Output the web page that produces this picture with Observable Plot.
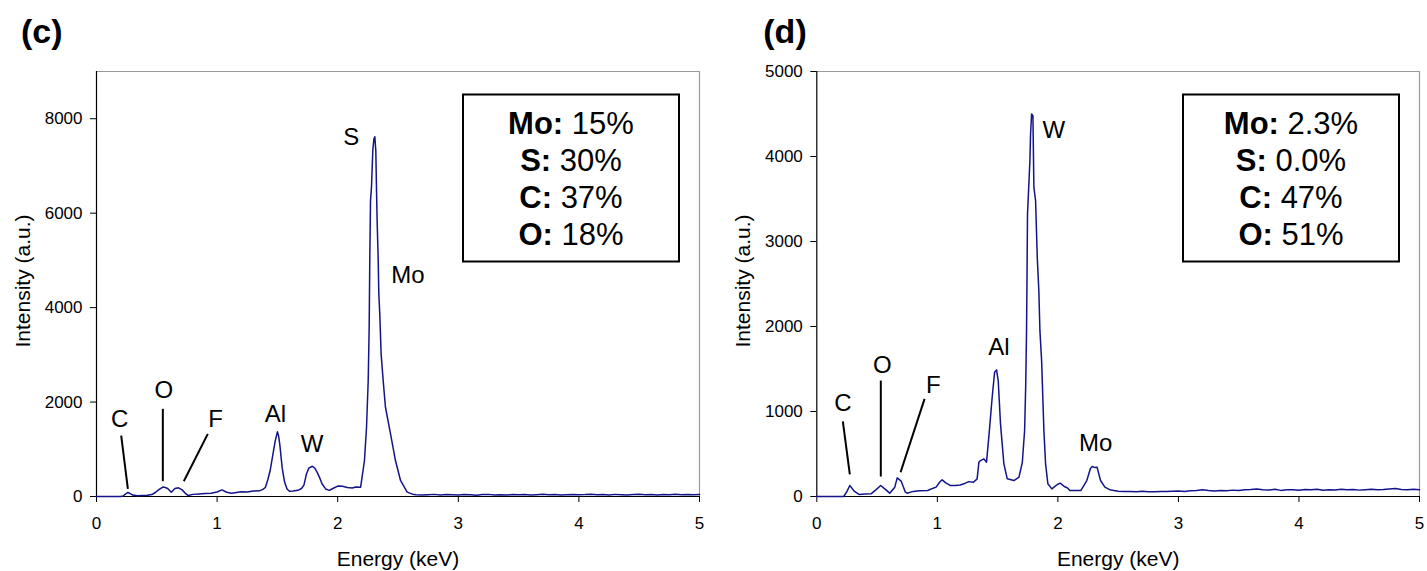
<!DOCTYPE html>
<html>
<head>
<meta charset="utf-8">
<script src="https://cdn.jsdelivr.net/npm/d3@7"></script>
<script src="https://cdn.jsdelivr.net/npm/@observablehq/plot@0.6"></script>
<style>
  body { margin: 0; background: #fff; }
  #wrap { display: flex; width: 1427px; height: 571px; overflow: hidden; }
</style>
</head>
<body>
<div id="wrap"></div>
<script>
// ---------- DATA ----------
const xTicks = [0, 1, 2, 3, 4, 5];
const cYTicks = [0, 2000, 4000, 6000, 8000];
const dYTicks = [0, 1000, 2000, 3000, 4000, 5000];

// EDS spectrum (c): [energy keV, intensity]
const specC = [
  [0,0],[0.1,0],[0.2,0],[0.22,10],[0.24,50],[0.26,85],[0.28,60],[0.3,30],[0.34,15],[0.38,20],
  [0.42,25],[0.46,40],[0.49,90],[0.52,150],[0.55,200],[0.57,190],[0.59,170],[0.62,90],[0.65,170],[0.68,183],
  [0.71,140],[0.74,60],[0.76,20],[0.8,45],[0.85,55],[0.9,65],[0.95,70],[1.0,95],[1.04,140],[1.08,90],
  [1.12,70],[1.16,85],[1.2,100],[1.25,95],[1.3,115],[1.35,120],[1.38,150],[1.4,190],[1.42,350],[1.44,550],
  [1.46,850],[1.48,1150],[1.5,1370],[1.51,1280],[1.52,1100],[1.54,600],[1.56,300],[1.58,160],[1.6,110],[1.63,115],
  [1.67,130],[1.7,170],[1.72,240],[1.74,470],[1.76,600],[1.79,640],[1.81,600],[1.83,510],[1.85,400],[1.87,270],
  [1.9,160],[1.93,130],[1.96,170],[2.0,220],[2.04,215],[2.08,190],[2.12,180],[2.15,200],[2.19,197],[2.222,762],
  [2.239,1467],[2.253,2455],[2.261,3584],[2.266,4995],[2.272,6265],[2.28,6547],[2.291,7323],[2.3,7570],[2.308,7619],[2.316,7323],
  [2.322,6476],[2.327,5841],[2.336,4995],[2.341,4290],[2.349,3866],[2.36,3020],[2.377,2455],[2.396,1890],[2.438,1326],[2.479,762],
  [2.521,339],[2.576,92],[2.62,50],[2.65,35],[2.7,30],[2.75,38],[2.8,45],[2.85,32],[2.9,40],[2.95,36],
  [3.0,30],[3.05,42],[3.1,35],[3.15,28],[3.2,40],[3.25,45],[3.3,33],[3.35,38],[3.4,30],[3.45,42],
  [3.5,36],[3.55,44],[3.6,32],[3.65,38],[3.7,46],[3.75,35],[3.8,40],[3.85,30],[3.9,38],[3.95,44],
  [4.0,35],[4.05,40],[4.1,48],[4.15,36],[4.2,42],[4.25,33],[4.3,45],[4.35,38],[4.4,30],[4.45,42],
  [4.5,47],[4.55,36],[4.6,40],[4.65,34],[4.7,44],[4.75,38],[4.8,50],[4.85,36],[4.9,42],[4.95,35],[5.0,40]
];

// EDS spectrum (d): [energy keV, intensity]
const specD = [
  [0,0],[0.1,0],[0.224,0],[0.25,60],[0.274,129],[0.31,63],[0.35,24],[0.4,28],[0.45,31],[0.49,78],
  [0.53,129],[0.564,90],[0.605,39],[0.647,110],[0.667,219],[0.7,180],[0.735,51],[0.75,39],[0.8,60],[0.85,68],
  [0.92,70],[0.96,95],[0.99,110],[1.02,170],[1.04,196],[1.07,160],[1.11,129],[1.15,130],[1.19,135],[1.22,149],
  [1.26,175],[1.3,168],[1.33,207],[1.345,404],[1.358,423],[1.386,443],[1.408,404],[1.427,698],[1.455,1168],[1.475,1462],
  [1.491,1489],[1.505,1364],[1.524,854],[1.552,384],[1.58,208],[1.635,188],[1.677,227],[1.705,400],[1.724,776],[1.733,1300],
  [1.74,1951],[1.744,2578],[1.748,3323],[1.768,3950],[1.773,4250],[1.782,4500],[1.793,4480],[1.801,3636],[1.815,3480],[1.829,2813],
  [1.842,2422],[1.851,1951],[1.865,1599],[1.884,776],[1.898,384],[1.917,149],[1.95,90],[1.995,141],[2.02,157],[2.05,120],
  [2.08,100],[2.1,70],[2.19,70],[2.24,188],[2.27,330],[2.285,353],[2.31,340],[2.325,345],[2.354,188],[2.39,110],
  [2.43,80],[2.465,70],[2.5,62],[2.55,60],[2.6,58],[2.65,55],[2.7,62],[2.75,57],[2.8,55],[2.85,60],
  [2.9,58],[2.95,62],[3.0,65],[3.05,60],[3.1,68],[3.15,72],[3.2,80],[3.25,70],[3.3,66],[3.35,72],
  [3.4,68],[3.45,75],[3.5,70],[3.55,78],[3.6,82],[3.65,88],[3.7,80],[3.75,76],[3.8,84],[3.85,72],
  [3.9,78],[3.95,80],[4.0,74],[4.05,82],[4.1,78],[4.15,86],[4.2,74],[4.25,80],[4.3,76],[4.35,84],
  [4.4,78],[4.45,82],[4.5,75],[4.55,80],[4.6,84],[4.65,78],[4.7,82],[4.75,88],[4.8,94],[4.85,82],
  [4.9,78],[4.95,86],[5.0,80]
];

// Peak labels: [text, energy, intensity]
const cLabels = [["C",0.193,1644],["O",0.558,2258],["F",0.987,1644],["Al",1.484,1750],["W",1.788,1115],["S",2.112,7605],["Mo",2.582,4677]];
const dLabels = [["C",0.216,1097],["O",0.543,1548],["F",0.966,1313],["Al",1.51,1755],["W",1.967,4303],["Mo",2.313,627]];

// Leader lines: [e1, i1, e2, i2]
const cLeaders = [[0.205,1291,0.26,163],[0.55,1856,0.55,324],[0.923,1327,0.724,324]];
const dLeaders = [[0.216,885,0.274,259],[0.531,1364,0.531,235],[0.894,1148,0.695,286]];

// Composition boxes
const boxElements = ["Mo", "S", "C", "O"];
const cBoxValues = ["15%", "30%", "37%", "18%"];
const dBoxValues = ["2.3%", "0.0%", "47%", "51%"];

// ---------- DRAWING ----------
const lineColor = "#14148a";
const FONT = "Liberation Sans, Arial, Helvetica, sans-serif";

function compositionBox(keys, vals) {
  return (index, scales, values, dimensions) => {
    const {width, marginRight, marginTop} = dimensions;
    const bw = 216, bh = 167;
    const x0 = width - marginRight - 20 - bw;
    const y0 = marginTop + 23.5;
    const g = d3.create("svg:g");
    g.append("rect").attr("x", x0).attr("y", y0).attr("width", bw).attr("height", bh)
      .attr("fill", "white").attr("stroke", "black").attr("stroke-width", 2);
    keys.forEach((k, j) => {
      const t = g.append("text")
        .attr("x", x0 + bw / 2).attr("y", y0 + 39 + j * 37)
        .attr("text-anchor", "middle").attr("font-size", 31).attr("fill", "black");
      t.append("tspan").attr("font-weight", "bold").text(k + ":");
      t.append("tspan").text(" " + vals[j]);
    });
    return g.node();
  };
}

function panel({width, marginLeft, marginRight, yMax, yTicks, spec, labels, leaders, boxVals, tag, tagDx}) {
  const data = spec.map(([e, i]) => ({e, i}));
  const lab = labels.map(([t, e, i]) => ({t, e, i}));
  const lead = leaders.map(([e1, i1, e2, i2]) => ({e1, i1, e2, i2}));
  return Plot.plot({
    width, height: 571,
    marginLeft, marginRight, marginTop: 71, marginBottom: 75,
    style: {fontFamily: FONT, background: "white", color: "black", overflow: "visible"},
    x: {domain: [0, 5]},
    y: {domain: [0, yMax]},
    marks: [
      Plot.ruleY([yMax], {stroke: "#9a9a9a", strokeWidth: 1.2}),
      Plot.ruleX([5], {stroke: "#9a9a9a", strokeWidth: 1.2}),
      Plot.axisY({ticks: yTicks, tickSize: 6, tickPadding: 8, tickFormat: d => String(d), fontSize: 17, label: null}),
      Plot.axisX({ticks: xTicks, tickSize: 6, tickPadding: 14, tickFormat: d => String(d), fontSize: 17, label: null}),
      Plot.ruleX([0], {stroke: "black", strokeWidth: 1.2}),
      Plot.ruleY([0], {stroke: "black", strokeWidth: 1.2}),
      Plot.link(lead, {x1: "e1", y1: "i1", x2: "e2", y2: "i2", stroke: "black", strokeWidth: 2}),
      Plot.text(lab, {x: "e", y: "i", text: "t", fontSize: 24, fill: "black"}),
      Plot.line(data, {x: "e", y: "i", stroke: lineColor, strokeWidth: 1.5}),
      compositionBox(boxElements, boxVals),
      Plot.text(["Intensity (a.u.)"], {text: d => d, frameAnchor: "left", textAnchor: "middle", lineAnchor: "middle", rotate: -90, dx: -73.5, dy: -3, fontSize: 21, fill: "black"}),
      Plot.text(["Energy (keV)"], {text: d => d, frameAnchor: "bottom", textAnchor: "middle", lineAnchor: "middle", dy: 63, fontSize: 21, fill: "black"}),
      Plot.text([tag], {text: d => d, frameAnchor: "top-left", textAnchor: "start", lineAnchor: "middle", dx: tagDx, dy: -39, fontSize: 34, fontWeight: "bold", fill: "black"})
    ]
  });
}

const wrap = document.getElementById("wrap");
wrap.append(panel({
  width: 713, marginLeft: 96, marginRight: 14, yMax: 9000, yTicks: cYTicks,
  spec: specC, labels: cLabels, leaders: cLeaders, boxVals: cBoxValues, tag: "(c)", tagDx: -75.5
}));
wrap.append(panel({
  width: 714, marginLeft: 103.3, marginRight: 8, yMax: 5000, yTicks: dYTicks,
  spec: specD, labels: dLabels, leaders: dLeaders, boxVals: dBoxValues, tag: "(d)", tagDx: -53.5
}));
</script>
</body>
</html>
